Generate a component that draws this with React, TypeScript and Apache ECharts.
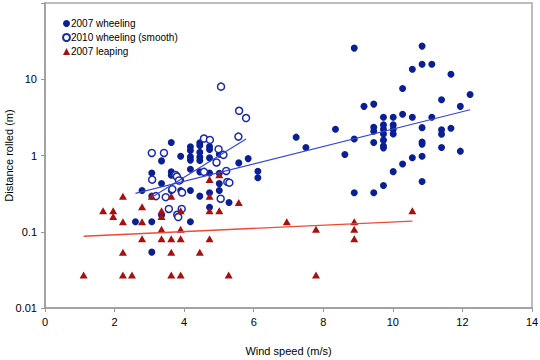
import React, { useEffect, useRef } from "react";
import * as echarts from "echarts";

const seriesNames = ["2007 wheeling", "2010 wheeling (smooth)", "2007 leaping"];
const xTicks = { min: 0, max: 14, interval: 2 };
const yRange = { min: 0.01, max: 100 };

const wheeling2007: [number, number][] = [
  [3.63, 1.48], [4.18, 1.3], [4.18, 1.16], [4.45, 1.47], [4.45, 1.35], [4.73, 1.31], [4.73, 1.2],
  [3.35, 0.85], [3.9, 0.98], [4.18, 0.96], [4.18, 0.87], [4.45, 1.1], [4.45, 0.955], [4.45, 0.86],
  [4.73, 0.93], [5.01, 1.04], [5.57, 0.8], [5.84, 0.91], [7.22, 1.74], [3.07, 0.59], [3.63, 0.61],
  [3.63, 0.55], [4.18, 0.66], [4.45, 0.61], [4.73, 0.59], [5.01, 0.585], [6.12, 0.62], [6.12, 0.51],
  [3.35, 0.43], [3.9, 0.475], [2.79, 0.347], [3.07, 0.293], [3.63, 0.347], [3.9, 0.347], [4.18, 0.347],
  [4.45, 0.293], [4.73, 0.324], [5.01, 0.428], [5.01, 0.347], [4.73, 0.21], [5.29, 0.242], [2.6, 0.135],
  [3.07, 0.135], [3.35, 0.165], [4.18, 0.135], [3.07, 0.054],
  [8.89, 25.6], [10.84, 27.2], [10.56, 13.5], [10.84, 15.7], [11.12, 15.7], [11.67, 11.6], [10.28, 7.57],
  [12.22, 6.32], [11.4, 5.38], [9.17, 4.41], [9.45, 4.72], [11.94, 4.41], [9.73, 3.17], [10.01, 3.17],
  [10.28, 3.47], [10.56, 3.17], [11.12, 3.17], [9.45, 2.35], [9.45, 2.08], [9.73, 2.52], [9.73, 2.21],
  [9.73, 1.92], [10.01, 2.52], [10.01, 2.21], [10.01, 1.92], [10.84, 2.32], [11.4, 2.17], [11.4, 1.9],
  [11.67, 2.28], [8.35, 2.21], [7.5, 1.27], [8.89, 1.65], [9.73, 1.59], [9.45, 1.48], [9.73, 1.33],
  [9.73, 1.26], [10.84, 1.5], [10.84, 1.41], [8.62, 1.03], [11.4, 1.27], [11.94, 1.14], [10.84, 0.98],
  [10.56, 0.935], [10.28, 0.774], [10.01, 0.614], [9.73, 0.404], [10.84, 0.455], [8.89, 0.324], [9.45, 0.324],
];

const wheeling2010: [number, number][] = [
  [5.06, 8.0], [5.58, 3.86], [5.78, 3.1], [5.56, 1.77], [4.57, 1.67], [4.74, 1.6], [3.07, 1.08],
  [3.42, 1.08], [4.99, 1.21], [5.13, 1.02], [4.93, 0.81], [4.57, 0.61], [5.21, 0.627], [3.75, 0.556],
  [3.79, 0.53], [3.08, 0.483], [3.85, 0.47], [5.24, 0.45], [5.3, 0.44], [3.66, 0.361], [3.94, 0.327],
  [3.19, 0.293], [3.47, 0.284], [5.05, 0.271], [3.56, 0.199], [3.93, 0.199], [3.8, 0.167], [3.83, 0.156],
];

const leaping2007: [number, number][] = [
  [4.73, 0.483], [5.01, 0.561], [2.24, 0.293], [3.07, 0.293], [3.63, 0.293], [4.73, 0.293],
  [1.67, 0.188], [1.96, 0.188], [1.96, 0.158], [2.79, 0.213], [3.35, 0.188], [3.35, 0.158],
  [3.9, 0.188], [4.73, 0.188], [5.01, 0.188], [5.57, 0.242], [2.24, 0.135], [2.79, 0.135],
  [6.95, 0.135], [3.35, 0.108], [3.9, 0.108], [7.79, 0.108], [8.89, 0.135], [8.89, 0.108],
  [8.89, 0.081], [10.56, 0.188], [2.79, 0.081], [3.35, 0.081], [3.63, 0.081], [3.9, 0.081],
  [4.73, 0.081], [2.24, 0.054], [3.63, 0.054], [4.45, 0.054], [1.11, 0.027], [2.24, 0.027],
  [2.5, 0.027], [3.63, 0.027], [3.9, 0.027], [5.28, 0.027], [7.79, 0.027],
];

const trend2007: [number, number][] = [[2.6, 0.318], [12.22, 3.98]];
const trend2010: [number, number][] = [[3.07, 0.284], [5.78, 1.65]];
const trendLeaping: [number, number][] = [[1.11, 0.0873], [10.56, 0.138]];

const FONT = "'Liberation Sans', Arial, sans-serif";

export default function App() {
  const ref = useRef<HTMLDivElement>(null);
  useEffect(() => {
    if (!ref.current) return;
    const chart = echarts.init(ref.current, null, { renderer: "svg" });
    const axisLine = { lineStyle: { color: "#9a9a9a", width: 1.5 } };
    chart.setOption({
      animation: false,
      textStyle: { fontFamily: FONT },
      grid: {
        left: 45,
        right: 8,
        top: 3,
        bottom: 52,
        outerBoundsMode: "none",
        containLabel: false,
        show: true,
        borderColor: "#a8a8a8",
        borderWidth: 1.5,
      },
      legend: {
        data: seriesNames,
        orient: "vertical",
        left: 62,
        top: 17,
        padding: 0,
        itemWidth: 7,
        itemHeight: 7,
        itemGap: 1,
        textStyle: { fontSize: 10, color: "#000", fontFamily: FONT, lineHeight: 13, padding: [0, 0, 0, -4] },
      },
      xAxis: {
        type: "value",
        min: xTicks.min,
        max: xTicks.max,
        interval: xTicks.interval,
        name: "Wind speed (m/s)",
        nameLocation: "middle",
        nameGap: 37,
        nameMoveOverlap: false,
        nameTextStyle: { fontSize: 11, color: "#000", fontFamily: FONT },
        axisLine,
        axisTick: { show: true, length: 4, lineStyle: { color: "#9a9a9a" } },
        axisLabel: { fontSize: 11, color: "#000", margin: 8, fontFamily: FONT },
        splitLine: { show: false },
      },
      yAxis: {
        type: "log",
        logBase: 10,
        min: yRange.min,
        max: yRange.max,
        name: "Distance rolled (m)",
        nameLocation: "middle",
        nameGap: 31,
        nameMoveOverlap: false,
        nameTextStyle: { fontSize: 11, color: "#000", fontFamily: FONT },
        axisLine,
        axisTick: { show: true, length: 4, lineStyle: { color: "#9a9a9a" } },
        axisLabel: {
          fontSize: 11,
          color: "#000",
          margin: 8,
          fontFamily: FONT,
          formatter: (v: number) => (v >= 99 ? "" : String(+v.toPrecision(1))),
        },
        splitLine: { show: false },
      },
      series: [
        {
          name: seriesNames[0],
          type: "scatter",
          data: wheeling2007,
          symbol: "circle",
          symbolSize: 7,
          itemStyle: { color: "#0a1f94", opacity: 1 },
          z: 2,
        },
        {
          name: seriesNames[1],
          type: "scatter",
          data: wheeling2010,
          symbol: "circle",
          symbolSize: 7,
          itemStyle: { color: "#ffffff", borderColor: "#1a2aae", borderWidth: 1.5, opacity: 1 },
          z: 3,
        },
        {
          name: seriesNames[2],
          type: "scatter",
          data: leaping2007,
          symbol: "triangle",
          symbolSize: [8, 7],
          itemStyle: { color: "#a80f0f", opacity: 1 },
          z: 4,
        },
        {
          name: "trend2007",
          type: "line",
          data: trend2007,
          showSymbol: false,
          symbol: "none",
          lineStyle: { color: "#3a48c4", width: 1.2 },
          silent: true,
          z: 5,
        },
        {
          name: "trend2010",
          type: "line",
          data: trend2010,
          showSymbol: false,
          symbol: "none",
          lineStyle: { color: "#3a48c4", width: 1.2 },
          silent: true,
          z: 5,
        },
        {
          name: "trendLeaping",
          type: "line",
          data: trendLeaping,
          showSymbol: false,
          symbol: "none",
          lineStyle: { color: "#f04a32", width: 1.4 },
          silent: true,
          z: 5,
        },
      ],
    });
    return () => chart.dispose();
  }, []);
  return <div ref={ref} style={{ width: 540, height: 360, position: "absolute", left: 0, top: 0 }} />;
}
